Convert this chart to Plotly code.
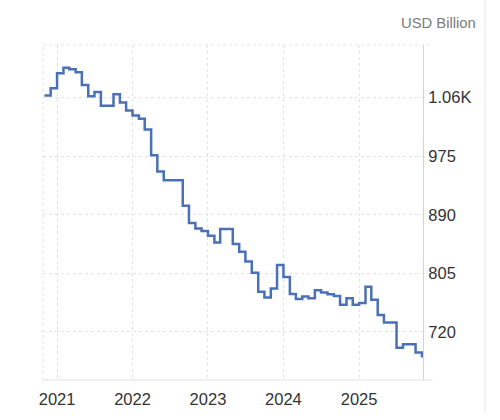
import plotly.graph_objects as go

# Monthly values (USD Billion), Nov 2020 - Nov 2025
months = [
    "2020-11", "2020-12",
    "2021-01", "2021-02", "2021-03", "2021-04", "2021-05", "2021-06",
    "2021-07", "2021-08", "2021-09", "2021-10", "2021-11", "2021-12",
    "2022-01", "2022-02", "2022-03", "2022-04", "2022-05", "2022-06",
    "2022-07", "2022-08", "2022-09", "2022-10", "2022-11", "2022-12",
    "2023-01", "2023-02", "2023-03", "2023-04", "2023-05", "2023-06",
    "2023-07", "2023-08", "2023-09", "2023-10", "2023-11", "2023-12",
    "2024-01", "2024-02", "2024-03", "2024-04", "2024-05", "2024-06",
    "2024-07", "2024-08", "2024-09", "2024-10", "2024-11", "2024-12",
    "2025-01", "2025-02", "2025-03", "2025-04", "2025-05", "2025-06",
    "2025-07", "2025-08", "2025-09", "2025-10", "2025-11",
]
values = [
    1063.2, 1073.7,
    1095.3, 1103.4, 1101.0, 1096.7, 1078.4, 1061.8,
    1068.0, 1048.3, 1048.3, 1064.7, 1052.9, 1041.2,
    1034.1, 1029.3, 1013.8, 976.2, 952.6, 939.9,
    939.9, 939.9, 903.2, 878.1, 870.2, 866.4,
    859.4, 849.9, 869.2, 869.2, 847.6, 836.3,
    822.2, 805.7, 778.4, 769.9, 783.0, 816.9,
    799.6, 775.0, 767.9, 771.3, 768.9, 780.6,
    777.0, 774.6, 772.2, 759.5, 768.9, 759.5,
    761.9, 785.5, 766.5, 744.5, 733.6, 733.6,
    696.9, 702.1, 702.1, 690.2, 682.7,
]
x_tick_vals = ["2021-01-01", "2022-01-01", "2023-01-01", "2024-01-01", "2025-01-01"]
x_tick_text = ["2021", "2022", "2023", "2024", "2025"]
y_tick_vals = [720, 805, 890, 975, 1060]
y_tick_text = ["720", "805", "890", "975", "1.06K"]
unit_label = "USD Billion"

dates = [m + "-01" for m in months]

fig = go.Figure()
fig.add_trace(go.Scatter(
    x=dates, y=values, mode="lines",
    line=dict(color="#4a70b5", width=2.5, shape="hv"),
    showlegend=False, hoverinfo="skip",
))

grid = "#e3e3e3"
font_family = "Liberation Sans, Arial, sans-serif"

fig.update_layout(
    width=500, height=420,
    margin=dict(l=43, r=77, t=45, b=31),
    paper_bgcolor="white", plot_bgcolor="white",
    font=dict(family=font_family, color="#333333", size=16.5),
    xaxis=dict(
        type="date",
        range=["2020-10-25", "2025-11-06"],
        tickvals=x_tick_vals, ticktext=x_tick_text,
        showgrid=True, gridcolor=grid, griddash="dot", gridwidth=1,
        zeroline=False, showline=False,
        ticks="outside", ticklen=4, tickcolor="rgba(0,0,0,0)",
        tickfont=dict(size=16.5, color="#333333"),
    ),
    yaxis=dict(
        side="right",
        range=[650.2, 1136.3],
        tickvals=y_tick_vals, ticktext=y_tick_text,
        showgrid=True, gridcolor=grid, griddash="dot", gridwidth=1,
        zeroline=False,
        showline=True, linecolor="#d4d4d4", linewidth=1,
        ticks="outside", ticklen=1, tickcolor=grid,
        tickfont=dict(size=16.5, color="#333333"),
    ),
    shapes=[
        # left border (dotted)
        dict(type="line", xref="paper", yref="paper", x0=0, x1=0, y0=0, y1=1,
             line=dict(color=grid, width=1, dash="dot")),
        # top border (dotted), extends past the axis
        dict(type="line", xref="paper", yref="paper", x0=0, x1=1.026, y0=1, y1=1,
             line=dict(color=grid, width=1, dash="dot")),
        # bottom border (solid), extends past the axis
        dict(type="line", xref="paper", yref="paper", x0=0, x1=1.026, y0=0, y1=0,
             line=dict(color="#e2e2e2", width=1)),
        # page border on the right
        dict(type="line", xref="paper", yref="paper", x0=1.163, x1=1.163, y0=-0.1, y1=1.14,
             line=dict(color="#e6e6e6", width=1)),
    ],
    annotations=[
        dict(text=unit_label, xref="paper", yref="paper", x=1.145, y=1.065,
             xanchor="right", yanchor="middle", showarrow=False,
             font=dict(size=14.8, color="#7a7a7a", family=font_family)),
    ],
)

fig.write_html("out.html")
